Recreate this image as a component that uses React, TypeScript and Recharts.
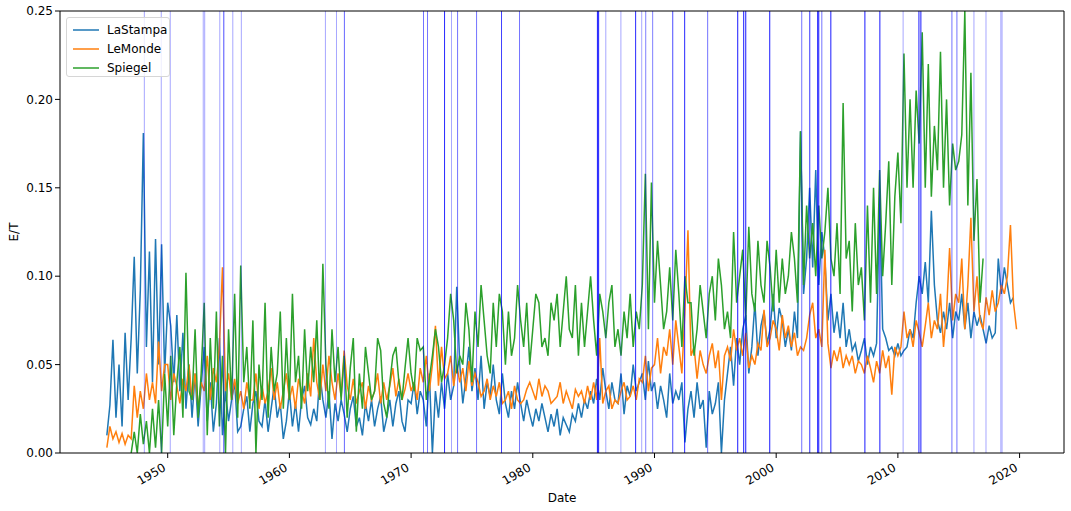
import React from "react";
import { LineChart, Line, XAxis, YAxis, ReferenceLine, Label } from "recharts";

// quarterly samples, one row per year
const STEP = 0.25;

const stampaStart = 1945.0;
const stampaValues = [
  0.010, 0.027, 0.064, 0.020,
  0.050, 0.015, 0.068, 0.030,
  0.065, 0.111, 0.045, 0.092,
  0.181, 0.060, 0.114, 0.040,
  0.121, 0.050, 0.118, 0.045,
  0.085, 0.072, 0.040, 0.078,
  0.035, 0.068, 0.025, 0.050,
  0.020, 0.045, 0.015, 0.038,
  0.060, 0.018, 0.040, 0.012,
  0.028, 0.065, 0.010, 0.035,
  0.018, 0.030, 0.040, 0.012,
  0.015, 0.025, 0.032, 0.012,
  0.028, 0.035, 0.018, 0.015,
  0.030, 0.012, 0.025, 0.038,
  0.020, 0.028, 0.008, 0.018,
  0.035, 0.015, 0.028, 0.012,
  0.030, 0.038, 0.020, 0.016,
  0.025, 0.018, 0.045, 0.030,
  0.020, 0.035, 0.008, 0.028,
  0.018, 0.030, 0.022, 0.012,
  0.025, 0.032, 0.015, 0.020,
  0.010, 0.028, 0.018, 0.030,
  0.015, 0.025, 0.032, 0.012,
  0.020, 0.030, 0.015, 0.028,
  0.035, 0.018, 0.012, 0.030,
  0.028, 0.040, 0.022, 0.035,
  0.030, 0.015, 0.045, 0.000,
  0.035, 0.020, 0.040, 0.025,
  0.045, 0.030, 0.038, 0.094,
  0.050, 0.028, 0.042, 0.060,
  0.035, 0.048, 0.030, 0.055,
  0.025, 0.040, 0.032, 0.050,
  0.030, 0.022, 0.045, 0.028,
  0.020, 0.035, 0.025, 0.040,
  0.028, 0.018, 0.030, 0.022,
  0.015, 0.025, 0.018, 0.028,
  0.020, 0.012, 0.022, 0.015,
  0.025, 0.010, 0.020, 0.016,
  0.012, 0.022, 0.018, 0.028,
  0.020, 0.030, 0.025, 0.035,
  0.028, 0.042, 0.030, 0.048,
  0.035, 0.025, 0.040, 0.030,
  0.028, 0.045, 0.022, 0.038,
  0.032, 0.050, 0.035, 0.040,
  0.045, 0.030, 0.052, 0.035,
  0.040, 0.025, 0.038, 0.030,
  0.020, 0.045, 0.028, 0.035,
  0.030, 0.040, 0.006, 0.025,
  0.035, 0.020, 0.040, 0.025,
  0.030, 0.003, 0.035, 0.022,
  0.028, 0.040, 0.000, 0.030,
  0.045, 0.060, 0.038, 0.065,
  0.050, 0.070, 0.078, 0.045,
  0.060, 0.085, 0.055, 0.072,
  0.080, 0.062, 0.070, 0.090,
  0.065, 0.082, 0.075, 0.060,
  0.070, 0.058, 0.080, 0.065,
  0.182, 0.090, 0.110, 0.150,
  0.105, 0.160, 0.095, 0.125,
  0.110, 0.075, 0.090, 0.068,
  0.080, 0.065, 0.085, 0.060,
  0.070, 0.058, 0.062, 0.052,
  0.058, 0.065, 0.050, 0.060,
  0.055, 0.062, 0.145, 0.070,
  0.065, 0.058, 0.060, 0.055,
  0.062, 0.055, 0.058, 0.060,
  0.070, 0.065, 0.085, 0.100,
  0.090, 0.108, 0.085, 0.137,
  0.095, 0.075, 0.068, 0.080,
  0.070, 0.085, 0.065, 0.080,
  0.075, 0.090, 0.070, 0.085,
  0.065, 0.080, 0.072, 0.078,
  0.070, 0.062, 0.072, 0.065,
  0.068, 0.110, 0.090, 0.105,
  0.095, 0.085, 0.088,
];

const mondeStart = 1945.0;
const mondeValues = [
  0.003, 0.015, 0.008, 0.012,
  0.006, 0.011, 0.005, 0.010,
  0.008, 0.038, 0.020, 0.035,
  0.025, 0.045, 0.030, 0.040,
  0.028, 0.063, 0.035, 0.050,
  0.050, 0.030, 0.045, 0.038,
  0.028, 0.042, 0.035, 0.050,
  0.030, 0.045, 0.025, 0.040,
  0.035, 0.055, 0.030, 0.048,
  0.040, 0.060, 0.105, 0.035,
  0.045, 0.030, 0.042, 0.028,
  0.035, 0.025, 0.040, 0.030,
  0.030, 0.045, 0.025, 0.038,
  0.028, 0.035, 0.048, 0.030,
  0.040, 0.025, 0.035, 0.045,
  0.030, 0.038, 0.025, 0.042,
  0.035, 0.028, 0.045, 0.032,
  0.065, 0.040, 0.030, 0.050,
  0.035, 0.055, 0.040, 0.030,
  0.045, 0.032, 0.058, 0.038,
  0.030, 0.042, 0.028, 0.035,
  0.040, 0.025, 0.038, 0.030,
  0.035, 0.045, 0.028, 0.040,
  0.030, 0.038, 0.048, 0.032,
  0.042, 0.030, 0.036, 0.045,
  0.035, 0.040, 0.030, 0.048,
  0.040, 0.055, 0.035, 0.050,
  0.072, 0.038, 0.060, 0.042,
  0.045, 0.055, 0.038, 0.050,
  0.040, 0.048, 0.035, 0.052,
  0.038, 0.045, 0.040, 0.032,
  0.035, 0.042, 0.030, 0.038,
  0.032, 0.040, 0.028, 0.030,
  0.035, 0.025, 0.038, 0.030,
  0.028, 0.030, 0.036, 0.040,
  0.035, 0.030, 0.042, 0.032,
  0.038, 0.035, 0.028, 0.030,
  0.032, 0.040, 0.028, 0.035,
  0.030, 0.025, 0.036, 0.032,
  0.035, 0.028, 0.038, 0.030,
  0.040, 0.030, 0.065, 0.028,
  0.035, 0.038, 0.025, 0.030,
  0.028, 0.035, 0.040, 0.030,
  0.032, 0.038, 0.030, 0.042,
  0.040, 0.055, 0.035, 0.048,
  0.050, 0.065, 0.045, 0.060,
  0.055, 0.070, 0.050, 0.075,
  0.060, 0.045, 0.080, 0.126,
  0.055, 0.060, 0.042, 0.058,
  0.050, 0.045, 0.055, 0.062,
  0.048, 0.058, 0.030, 0.055,
  0.060, 0.052, 0.070, 0.058,
  0.065, 0.055, 0.068, 0.048,
  0.055, 0.050, 0.062, 0.058,
  0.081, 0.060, 0.065, 0.075,
  0.070, 0.058, 0.078, 0.065,
  0.072, 0.060, 0.068, 0.055,
  0.060, 0.058, 0.065, 0.078,
  0.085, 0.065, 0.070, 0.060,
  0.115, 0.062, 0.048, 0.058,
  0.052, 0.060, 0.048, 0.055,
  0.050, 0.055, 0.045, 0.052,
  0.050, 0.045, 0.055, 0.048,
  0.040, 0.052, 0.045, 0.058,
  0.048, 0.055, 0.033, 0.060,
  0.055, 0.060, 0.080, 0.065,
  0.070, 0.060, 0.075, 0.068,
  0.060, 0.072, 0.085, 0.065,
  0.075, 0.070, 0.090, 0.060,
  0.080, 0.116, 0.075, 0.090,
  0.085, 0.110, 0.070, 0.095,
  0.133, 0.080, 0.100, 0.075,
  0.070, 0.088, 0.078, 0.092,
  0.080, 0.085, 0.095, 0.090,
  0.100, 0.129, 0.085, 0.070,
];

const spiegelStart = 1947.0;
const spiegelValues = [
  0.000, 0.012, 0.000, 0.022,
  0.005, 0.018, 0.000, 0.025,
  0.003, 0.030, 0.000, 0.045,
  0.015, 0.055, 0.010, 0.040,
  0.060, 0.020, 0.102, 0.035,
  0.030, 0.070, 0.020, 0.045,
  0.085, 0.010, 0.065, 0.025,
  0.080, 0.015, 0.055, 0.000,
  0.070, 0.030, 0.090, 0.020,
  0.106, 0.040, 0.060, 0.025,
  0.075, 0.000, 0.050, 0.030,
  0.085, 0.020, 0.060, 0.035,
  0.045, 0.080, 0.025, 0.065,
  0.030, 0.090, 0.040, 0.055,
  0.025, 0.070, 0.035, 0.060,
  0.040, 0.075, 0.030, 0.107,
  0.050, 0.025, 0.070, 0.040,
  0.060, 0.030, 0.055, 0.020,
  0.048, 0.065, 0.012, 0.045,
  0.025, 0.060, 0.045, 0.030,
  0.035, 0.065, 0.058, 0.028,
  0.020, 0.040, 0.055, 0.060,
  0.040, 0.030, 0.048, 0.065,
  0.045, 0.035, 0.065, 0.058,
  0.060, 0.030, 0.042, 0.055,
  0.070, 0.060, 0.040, 0.050,
  0.065, 0.090, 0.075, 0.045,
  0.055, 0.050, 0.085, 0.070,
  0.040, 0.080, 0.060, 0.095,
  0.075, 0.055, 0.045, 0.085,
  0.060, 0.090, 0.080, 0.050,
  0.080, 0.055, 0.065, 0.095,
  0.075, 0.060, 0.085, 0.050,
  0.070, 0.090, 0.085, 0.060,
  0.065, 0.055, 0.085, 0.075,
  0.090, 0.060, 0.080, 0.100,
  0.070, 0.065, 0.095, 0.055,
  0.085, 0.060, 0.080, 0.100,
  0.075, 0.055, 0.090, 0.080,
  0.065, 0.085, 0.095, 0.060,
  0.070, 0.055, 0.080, 0.065,
  0.090, 0.060, 0.080, 0.070,
  0.095, 0.158, 0.070, 0.153,
  0.085, 0.120, 0.095, 0.070,
  0.080, 0.105, 0.075, 0.115,
  0.090, 0.060, 0.100, 0.085,
  0.085, 0.055, 0.070, 0.095,
  0.080, 0.065, 0.090, 0.100,
  0.075, 0.110, 0.095, 0.070,
  0.080, 0.065, 0.125, 0.085,
  0.100, 0.115, 0.075, 0.128,
  0.090, 0.080, 0.120, 0.095,
  0.085, 0.120, 0.105, 0.080,
  0.115, 0.085, 0.110, 0.090,
  0.100, 0.125, 0.110, 0.085,
  0.182, 0.095, 0.140, 0.110,
  0.130, 0.100, 0.140, 0.110,
  0.125, 0.150, 0.110, 0.100,
  0.130, 0.090, 0.198, 0.110,
  0.120, 0.080, 0.130, 0.095,
  0.105, 0.075, 0.140, 0.085,
  0.150, 0.090, 0.160, 0.100,
  0.130, 0.165, 0.095, 0.145,
  0.170, 0.130, 0.226, 0.150,
  0.200, 0.150, 0.205, 0.175,
  0.238, 0.150, 0.220, 0.145,
  0.185, 0.160, 0.227, 0.150,
  0.200, 0.140, 0.175, 0.160,
  0.165, 0.180, 0.250, 0.140,
  0.215, 0.120, 0.155, 0.085,
  0.110,
];

// vertical event markers (year, opacity)
const eventYears = [
  1948.08, 1949.47, 1950.21, 1952.92, 1953.04, 1954.28, 1954.61, 1955.35, 1956.05,
  1962.96, 1963.87, 1964.52, 1971.02, 1971.35, 1972.75, 1973.32, 1973.82, 1975.38,
  1977.43, 1978.91, 1985.31, 1985.41, 1986.0, 1987.24, 1988.45, 1988.95, 1989.28,
  1989.85, 1991.5, 1992.48, 1994.37, 1996.84, 1997.33, 1997.5, 1999.47, 2002.1,
  2002.76, 2003.41, 2003.5, 2003.75, 2004.49, 2007.29, 2008.52, 2010.43, 2011.73,
  2011.89, 2014.44, 2014.85, 2016.25, 2017.24, 2018.46, 2018.56,
];
const eventAlpha = [
  0.35, 0.35, 0.35, 0.35, 0.35, 0.35, 0.7, 0.35, 0.35,
  0.35, 0.35, 0.6, 0.55, 0.55, 0.85, 0.35, 0.55, 0.55,
  0.75, 0.55, 0.9, 0.9, 0.35, 0.35, 0.85, 0.35, 0.5,
  0.5, 0.7, 0.85, 0.55, 0.9, 0.9, 0.9, 0.9, 0.55,
  0.8, 0.9, 0.9, 0.55, 0.9, 0.9, 0.9, 0.35, 0.9,
  0.9, 0.55, 0.55, 0.35, 0.35, 0.35, 0.35,
];

const xTicks = [1950, 1960, 1970, 1980, 1990, 2000, 2010, 2020];
const yTicks = [0, 0.05, 0.1, 0.15, 0.2, 0.25];
const seriesNames = ["LaStampa", "LeMonde", "Spiegel"];
const seriesColors = ["#1f77b4", "#ff7f0e", "#2ca02c"];

const toSeries = (start: number, values: number[]) =>
  values.map((v, i) => ({ t: start + i * STEP, v }));

const stampa = toSeries(stampaStart, stampaValues);
const monde = toSeries(mondeStart, mondeValues);
const spiegel = toSeries(spiegelStart, spiegelValues);
const allSeries = [stampa, monde, spiegel];

const FONT = "'DejaVu Sans', sans-serif";

const DateTick = ({ x, y, payload }: any) => (
  <text
    x={x - 1}
    y={y + 10}
    transform={`rotate(-30, ${x - 1}, ${y + 10})`}
    textAnchor="end"
    fontSize={12}
    fontFamily={FONT}
    fill="#000"
  >
    {payload.value}
  </text>
);

export default function App() {
  return (
    <div style={{ position: "absolute", left: 0, top: 0, width: 1071, height: 511, background: "#fff" }}>
      <LineChart width={1071} height={511} margin={{ top: 11, right: 7, bottom: 0, left: 10 }}>
        <XAxis
          dataKey="t"
          type="number"
          domain={[1941.15, 2023.65]}
          allowDataOverflow
          ticks={xTicks}
          tick={<DateTick />}
          height={58}
          stroke="#000"
          tickSize={5}
        >
          <Label
            content={() => (
              <text x={562} y={502} textAnchor="middle" fontSize={12} fontFamily={FONT} fill="#000">
                Date
              </text>
            )}
          />
        </XAxis>
        <YAxis
          type="number"
          domain={[0, 0.25]}
          allowDataOverflow
          ticks={yTicks}
          tickFormatter={(v: number) => v.toFixed(2)}
          width={50}
          stroke="#000"
          tickSize={5}
          tick={{ fontSize: 12, fontFamily: FONT, fill: "#000" }}
        >
          <Label
            content={() => (
              <text
                x={18}
                y={232}
                transform="rotate(-90, 18, 232)"
                textAnchor="middle"
                fontSize={12}
                fontFamily={FONT}
                fill="#000"
              >
                E/T
              </text>
            )}
          />
        </YAxis>
        {allSeries.map((d, i) => (
          <Line
            key={seriesNames[i]}
            data={d}
            dataKey="v"
            name={seriesNames[i]}
            type="linear"
            stroke={seriesColors[i]}
            strokeWidth={1.5}
            dot={false}
            activeDot={false}
            isAnimationActive={false}
          />
        ))}
        {eventYears.map((yr, i) => (
          <ReferenceLine key={i} x={yr} stroke="#0000ff" strokeOpacity={eventAlpha[i]} strokeWidth={1} />
        ))}
        <ReferenceLine y={0.25} stroke="#000" strokeWidth={1} />
        <ReferenceLine x={2023.65} stroke="#000" strokeWidth={1} />
      </LineChart>
      <div
        style={{
          position: "absolute",
          left: 66,
          top: 17,
          width: 102,
          height: 58,
          border: "1px solid #d6d6d6",
          borderRadius: 3,
          background: "rgba(255,255,255,0.8)",
          fontFamily: FONT,
          fontSize: 12,
        }}
      >
        {seriesNames.map((n, i) => (
          <div
            key={n}
            style={{ position: "absolute", left: 4, top: 4 + i * 19, height: 16, display: "flex", alignItems: "center" }}
          >
            <svg width={30} height={16}>
              <line x1={2} y1={8} x2={28} y2={8} stroke={seriesColors[i]} strokeWidth={1.5} />
            </svg>
            <span style={{ marginLeft: 6, color: "#000" }}>{n}</span>
          </div>
        ))}
      </div>
    </div>
  );
}
